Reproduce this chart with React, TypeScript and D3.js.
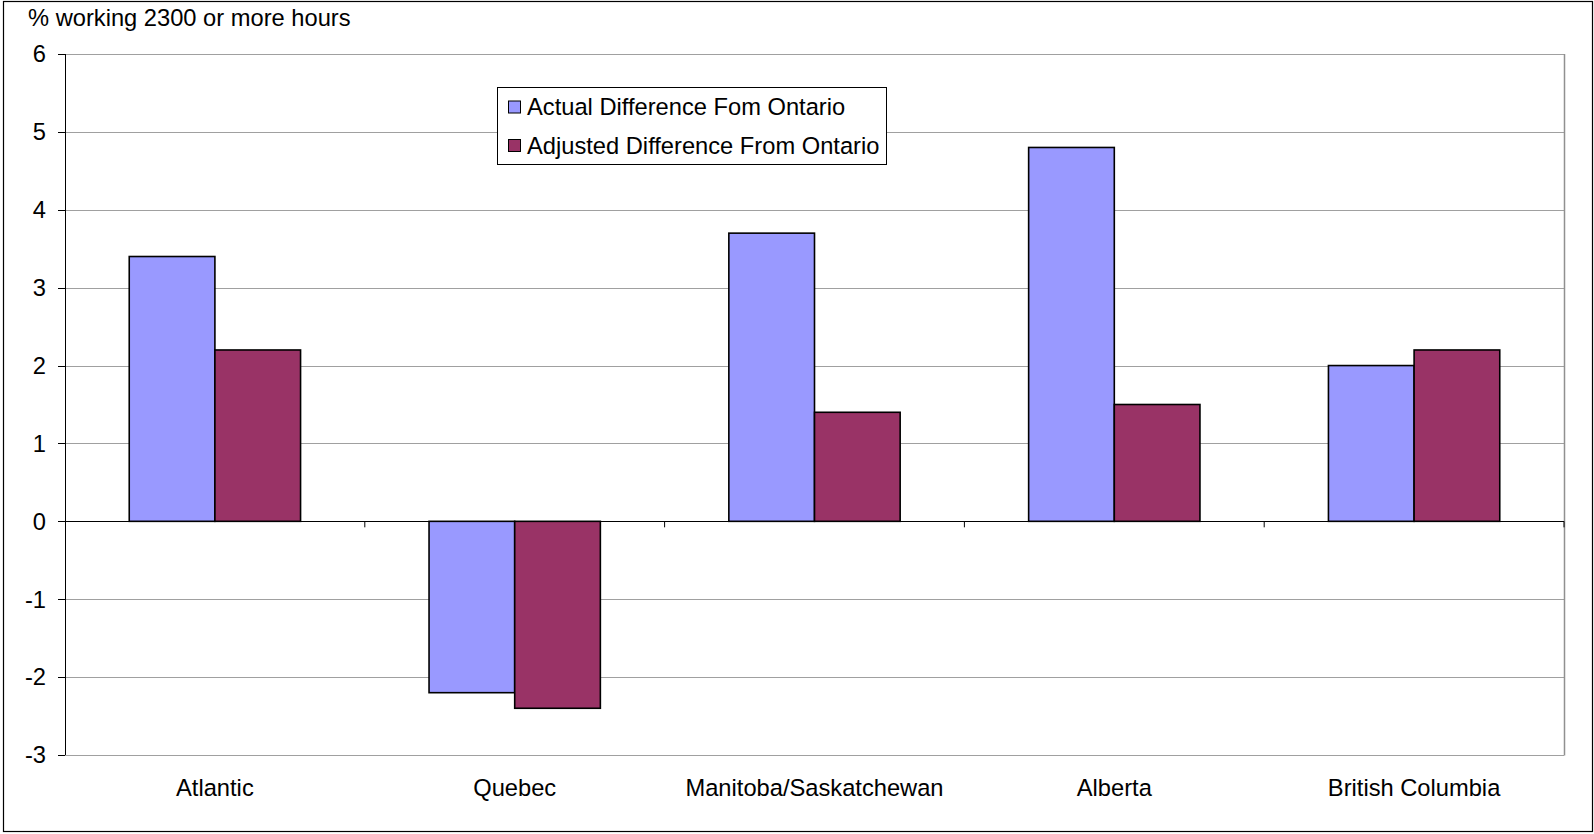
import React from 'react'
import * as d3 from 'd3'

const categories: string[] = ['Atlantic', 'Quebec', 'Manitoba/Saskatchewan', 'Alberta', 'British Columbia']
const seriesNames: string[] = ['Actual Difference Fom Ontario', 'Adjusted Difference From Ontario']
const actualValues: number[] = [3.4, -2.2, 3.7, 4.8, 2.0]
const adjustedValues: number[] = [2.2, -2.4, 1.4, 1.5, 2.2]
const yTicks: number[] = [-3, -2, -1, 0, 1, 2, 3, 4, 5, 6]
const seriesColors: string[] = ['#9999FF', '#993366']
const yTitle = '% working 2300 or more hours'

const App = () => {
    const width = 1594
    const height = 834
    const plot = { left: 65, right: 1564, top: 54, bottom: 755 }
    const font = 'Arial, "Liberation Sans", sans-serif'
    const fs = 23.7

    const x = d3.scaleBand<string>()
        .domain(categories)
        .range([plot.left, plot.right])
        .paddingInner(0)
        .paddingOuter(0)

    const y = d3.scaleLinear()
        .domain([-3, 6])
        .range([plot.bottom, plot.top])

    const band = x.bandwidth()
    const barW = band / 3.5
    const series = [actualValues, adjustedValues]

    return (
        <svg width={width} height={height} style={{ position: 'absolute', left: 0, top: 0, background: '#fff' }}
             fontFamily={font}>
            <rect x={3.5} y={1.5} width={width - 5} height={height - 4} fill="#fff" stroke="#000" strokeWidth={1.2} />

            {/* grid */}
            {yTicks.map(t => (
                <line key={`g-${t}`} x1={plot.left} x2={plot.right} y1={Math.round(y(t)) + 0.5} y2={Math.round(y(t)) + 0.5}
                      stroke="#a0a0a0" strokeWidth={1} />
            ))}
            <line x1={plot.right + 0.5} x2={plot.right + 0.5} y1={plot.top} y2={plot.bottom + 0.5} stroke="#909090" strokeWidth={1.5} />

            {/* bars */}
            {series.map((vals, si) => vals.map((v, i) => {
                const cx = (x(categories[i]) as number) + band / 2
                const bx = cx - barW + si * barW
                const y0 = y(0)
                const y1 = y(v)
                return <rect key={`b-${si}-${i}`} x={bx} y={Math.min(y0, y1)} width={barW} height={Math.abs(y1 - y0)}
                             fill={seriesColors[si]} stroke="#000" strokeWidth={1.6} />
            }))}

            {/* zero axis */}
            <line x1={plot.left} x2={plot.right} y1={Math.round(y(0)) + 0.5} y2={Math.round(y(0)) + 0.5} stroke="#000" strokeWidth={1} />
            {categories.slice(1).map(c => (
                <line key={`xt-${c}`} x1={(x(c) as number)} x2={(x(c) as number)} y1={y(0)} y2={y(0) + 6} stroke="#000" strokeWidth={1} />
            ))}
            <line x1={plot.right} x2={plot.right} y1={y(0)} y2={y(0) + 6} stroke="#000" strokeWidth={1} />

            {/* y axis */}
            <line x1={plot.left + 0.5} x2={plot.left + 0.5} y1={plot.top} y2={plot.bottom} stroke="#000" strokeWidth={1} />
            {yTicks.map(t => (
                <g key={`yt-${t}`}>
                    <line x1={plot.left - 7} x2={plot.left} y1={Math.round(y(t)) + 0.5} y2={Math.round(y(t)) + 0.5} stroke="#000" />
                    <text x={46} y={y(t)} dy="0.35em" textAnchor="end" fontSize={fs} fill="#000">{t}</text>
                </g>
            ))}

            {/* x labels */}
            {categories.map(c => (
                <text key={`xl-${c}`} x={(x(c) as number) + band / 2} y={796} textAnchor="middle" fontSize={fs} fill="#000">{c}</text>
            ))}

            <text x={28} y={26} fontSize={fs} fill="#000">{yTitle}</text>

            {/* legend */}
            <g>
                <rect x={497.5} y={87.5} width={389} height={77} fill="#fff" stroke="#000" strokeWidth={1} />
                {seriesNames.map((s, i) => (
                    <g key={`lg-${i}`}>
                        <rect x={508.5} y={101 + i * 38.5} width={12} height={12} fill={seriesColors[i]} stroke="#000" strokeWidth={1} />
                        <text x={527} y={107 + i * 38.5} dy="0.35em" fontSize={fs} fill="#000">{s}</text>
                    </g>
                ))}
            </g>
        </svg>
    )
}

export default App
